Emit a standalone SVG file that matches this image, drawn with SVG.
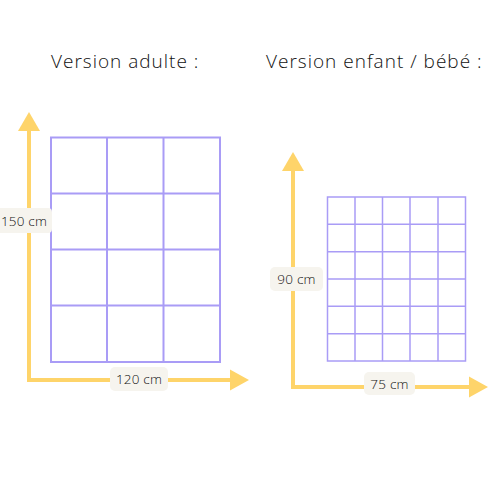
<svg xmlns="http://www.w3.org/2000/svg" width="500" height="500" viewBox="0 0 500 500">
<style>
.title{font-family:"Open Sans","Noto Sans",sans-serif;font-size:19px;font-weight:300;fill:#111;letter-spacing:1px}
.grid{fill:none;stroke:#a99cf6;stroke-width:2}
.gridt{fill:none;stroke:#a99cf6;stroke-width:1.5}
.axis{stroke:#fed46a;stroke-width:4;fill:none}
.head{fill:#fed46a}
.lbox{fill:#f6f4ee}
.lbl{font-family:"Open Sans","Noto Sans",sans-serif;font-size:13.5px;font-weight:300;fill:#111;text-anchor:middle;letter-spacing:0.2px}
</style>
<rect width="500" height="500" fill="#fff"/>
<text class="title" x="51" y="68">Version adulte :</text>
<text class="title" x="266" y="68">Version enfant / bébé :</text>
<g id="adult-grid">
<rect class="grid" x="51" y="137.5" width="169" height="224.5"/>
<path class="grid" d="M107 137.5V362M163.5 137.5V362M51 193.5H220M51 249.5H220M51 305.5H220"/>
</g>
<g id="child-grid">
<rect class="gridt" x="327.5" y="197" width="138" height="164"/>
<path class="gridt" d="M355 197V361M382.5 197V361M410 197V361M438 197V361M327.5 224.3H465.5M327.5 251.7H465.5M327.5 279H465.5M327.5 306.3H465.5M327.5 333.7H465.5"/>
</g>
<g id="connectors">
<path class="axis" d="M29 130V380H232"/>
<polygon class="head" points="29,112 40,131 18,131"/>
<polygon class="head" points="249,380 230,369.5 230,390.5"/>
<path class="axis" d="M293 170V387H470"/>
<polygon class="head" points="293,152 304,171 282,171"/>
<polygon class="head" points="488,387 469,376.5 469,397.5"/>
</g>
<g id="label-150">
<rect class="lbox" x="-4" y="208" width="56" height="25" rx="4"/>
<text class="lbl" x="24" y="225.5">150 cm</text>
</g>
<g id="label-120">
<rect class="lbox" x="110" y="367" width="58" height="24" rx="5"/>
<text class="lbl" x="139" y="384">120 cm</text>
</g>
<g id="label-90">
<rect class="lbox" x="270" y="267" width="53" height="24" rx="5"/>
<text class="lbl" x="296.5" y="284">90 cm</text>
</g>
<g id="label-75">
<rect class="lbox" x="364" y="372" width="51" height="23" rx="5"/>
<text class="lbl" x="389.5" y="388.5">75 cm</text>
</g>
</svg>
